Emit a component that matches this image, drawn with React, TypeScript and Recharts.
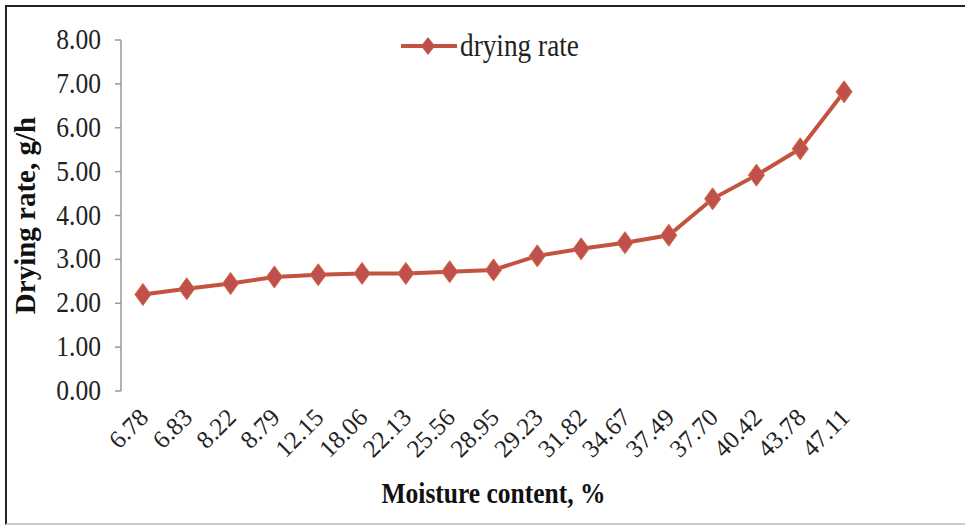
import React from 'react';
import { LineChart, Line, XAxis, YAxis } from 'recharts';

const categories = ['6.78', '6.83', '8.22', '8.79', '12.15', '18.06', '22.13', '25.56', '28.95', '29.23', '31.82', '34.67', '37.49', '37.70', '40.42', '43.78', '47.11'];
const dryingRate = [2.2, 2.33, 2.45, 2.6, 2.65, 2.68, 2.68, 2.72, 2.76, 3.08, 3.24, 3.38, 3.55, 4.38, 4.92, 5.52, 6.82];
const yTicks = [0, 1, 2, 3, 4, 5, 6, 7, 8];
const seriesName = 'drying rate';

const data = categories.map((c, i) => ({ idx: i, m: c, rate: dryingRate[i] }));
const boundaryTicks = categories.map((_, i) => i - 0.5).concat([categories.length - 0.5]);
const centerTicks = categories.map((_, i) => i);

const LINE = '#C3523F';
const FONT = '"Liberation Serif", "Times New Roman", serif';
const SX = 0.88;

const Diamond = (props: any) => {
  const { cx, cy } = props;
  if (cx == null || cy == null) return null;
  return (
    <polygon
      points={`${cx},${cy - 11} ${cx + 8},${cy} ${cx},${cy + 11} ${cx - 8},${cy}`}
      fill="#C0504D"
      stroke="#D2693A"
      strokeWidth={1}
    />
  );
};

const XTick = (props: any) => {
  const { x, y, payload } = props;
  const ax = x + 7;
  const ay = y + 28;
  return (
    <text
      x={ax}
      y={ay}
      transform={`rotate(-45, ${ax}, ${ay})`}
      textAnchor="end"
      fontFamily={FONT}
      fontSize={25}
      fill="#222"
    >
      {categories[payload.value]}
    </text>
  );
};

const YTick = (props: any) => {
  const { x, y, payload } = props;
  return (
    <text
      transform={`translate(${x}, ${y + 9}) scale(${SX}, 1)`}
      textAnchor="end"
      fontFamily={FONT}
      fontSize={29}
      fill="#222"
    >
      {Number(payload.value).toFixed(2)}
    </text>
  );
};

const LegendBox = () => (
  <div
    style={{
      position: 'absolute',
      left: 401,
      top: 28,
      display: 'flex',
      alignItems: 'center',
      fontFamily: FONT,
      fontSize: 31,
      color: '#222',
    }}
  >
    <svg width={56} height={24} style={{ marginRight: 3 }}>
      <line x1={0} y1={12} x2={56} y2={12} stroke={LINE} strokeWidth={4} />
      <polygon points="27,3 34,12 27,21 20,12" fill="#C0504D" />
    </svg>
    <span style={{ display: 'inline-block', transform: `scaleX(${SX})`, transformOrigin: 'left center' }}>{seriesName}</span>
  </div>
);

export default function App() {
  return (
    <div style={{ position: 'absolute', left: 0, top: 0, width: 965, height: 526, background: '#fff' }}>
      <div
        style={{
          position: 'absolute',
          left: 5,
          top: 5,
          width: 962,
          height: 516,
          borderLeft: '2px solid #222',
          borderTop: '2px solid #222',
          borderBottom: '2px solid #ccc',
        }}
      />
      <div style={{ position: 'absolute', left: 0, top: 0 }}>
        <LineChart width={965} height={526} data={data} margin={{ top: 40, right: 99, bottom: 0, left: 50 }}>
          <XAxis
            xAxisId="grid"
            dataKey="idx"
            type="number"
            domain={[-0.5, categories.length - 0.5]}
            ticks={boundaryTicks}
            interval={0}
            tickFormatter={() => ''}
            tickLine={{ stroke: '#999', strokeWidth: 1.5 }}
            tickSize={7}
            axisLine={{ stroke: '#999', strokeWidth: 1.5 }}
            height={0}
            allowDataOverflow
          />
          <XAxis
            xAxisId="cat"
            dataKey="idx"
            type="number"
            domain={[-0.5, categories.length - 0.5]}
            ticks={centerTicks}
            interval={0}
            tick={<XTick />}
            tickLine={false}
            tickSize={0}
            tickMargin={0}
            axisLine={false}
            height={135}
            allowDataOverflow
            label={(p: any) => {
              const vb = p.viewBox || {};
              const cx = (vb.x ?? 121) + (vb.width ?? 745) / 2;
              return (
                <text
                  transform={`translate(${cx}, 503) scale(${SX}, 1)`}
                  textAnchor="middle"
                  fontFamily={FONT}
                  fontSize={29}
                  fontWeight="bold"
                  fill="#111"
                >
                  Moisture content, %
                </text>
              );
            }}
          />
          <YAxis
            domain={[0, 8]}
            ticks={yTicks}
            interval={0}
            width={71}
            tick={<YTick />}
            tickLine={{ stroke: '#999', strokeWidth: 1.5 }}
            tickSize={6}
            tickMargin={14}
            axisLine={{ stroke: '#999', strokeWidth: 1.5 }}
            label={(p: any) => {
              const vb = p.viewBox || {};
              const cy = (vb.y ?? 40) + (vb.height ?? 351) / 2;
              return (
                <text
                  x={35}
                  y={cy}
                  transform={`rotate(-90, 35, ${cy})`}
                  textAnchor="middle"
                  fontFamily={FONT}
                  fontSize={29}
                  fontWeight="bold"
                  fill="#111"
                >
                  Drying rate, g/h
                </text>
              );
            }}
          />
          <Line
            xAxisId="cat"
            type="linear"
            dataKey="rate"
            name={seriesName}
            stroke={LINE}
            strokeWidth={4}
            dot={<Diamond />}
            activeDot={false}
            isAnimationActive={false}
          />
        </LineChart>
      </div>
      <LegendBox />
    </div>
  );
}
